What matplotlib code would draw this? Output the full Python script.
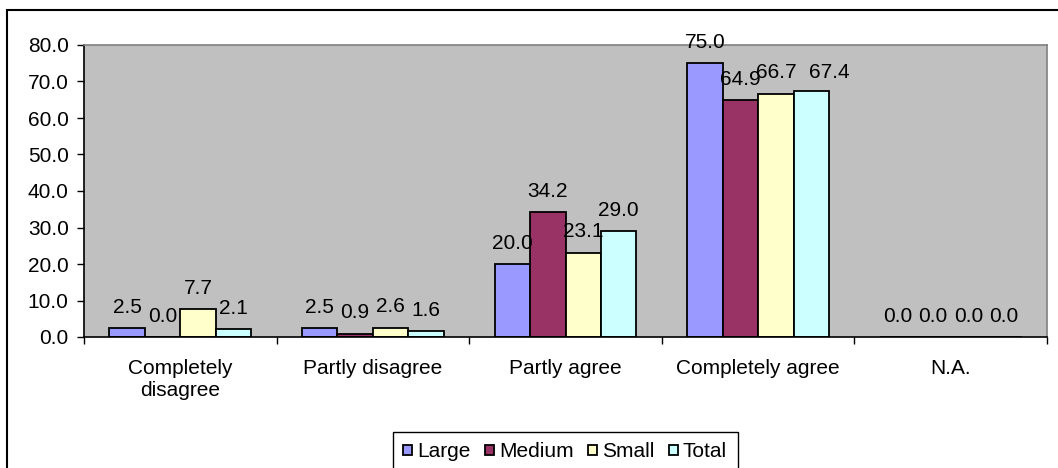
import matplotlib
matplotlib.use("Agg")
import matplotlib.pyplot as plt
from matplotlib.patches import Rectangle
import numpy as np

plt.rcParams['font.family'] = ['Liberation Sans', 'DejaVu Sans']

categories = ["Completely\ndisagree", "Partly disagree", "Partly agree",
              "Completely agree", "N.A."]
series_names = ["Large", "Medium", "Small", "Total"]
large = [2.5, 2.5, 20.0, 75.0, 0.0]
medium = [0.0, 0.9, 34.2, 64.9, 0.0]
small = [7.7, 2.6, 23.1, 66.7, 0.0]
total = [2.1, 1.6, 29.0, 67.4, 0.0]
colors = ["#9999FF", "#993366", "#FFFFCC", "#CCFFFF"]

FS = 15
# Excel pushed one crowded label sideways: (series, category) -> offset in points
label_nudge = {(3, 3): (13, 13)}


def main():
    fig = plt.figure(figsize=(10.58, 4.68), dpi=100)
    W, H = 1058, 468
    ax = fig.add_axes([84 / W, 1 - 337 / H, (1047 - 84) / W, (337 - 45) / H])
    ax.set_facecolor("#C0C0C0")

    x = np.arange(len(categories))
    width = 0.184
    all_series = [large, medium, small, total]
    for i, (name, vals) in enumerate(zip(series_names, all_series)):
        pos = x + (i - 1.5) * width
        ax.bar(pos, vals, width, color=colors[i], edgecolor="black",
               linewidth=1.3, label=name)
        for j, (px, v) in enumerate(zip(pos, vals)):
            off = label_nudge.get((i, j), (0, 15))
            ax.annotate(f"{v:.1f}", (px, v), xytext=off,
                        textcoords="offset points", ha="center", va="center",
                        fontsize=FS)

    ax.set_xlim(-0.5, len(categories) - 0.5)
    ax.set_ylim(0, 80)
    ax.set_yticks(np.arange(0, 81, 10))
    ax.set_yticklabels([f"{t:.1f}" for t in np.arange(0, 81, 10)])
    ax.tick_params(axis="y", direction="out", length=5, width=1, pad=6,
                   labelsize=FS)

    # ticks on category boundaries, labels in the middle
    ax.set_xticks(np.arange(-0.5, len(categories), 1.0))
    ax.set_xticklabels([])
    ax.tick_params(axis="x", which="major", direction="out", length=5, width=1)
    ax.set_xticks(x, minor=True)
    ax.set_xticklabels(categories, minor=True, fontsize=FS, linespacing=1.2)
    ax.tick_params(axis="x", which="minor", length=0, pad=16)

    for side in ["left", "bottom"]:
        ax.spines[side].set_color("black")
        ax.spines[side].set_linewidth(1.2)
    for side in ["top", "right"]:
        ax.spines[side].set_color("#808080")
        ax.spines[side].set_linewidth(1.2)

    fig.legend(loc="upper left", bbox_to_anchor=(393 / W, 1 - 432 / H),
               ncol=4, fontsize=FS, frameon=True, fancybox=False,
               edgecolor="black", framealpha=1, borderaxespad=0,
               handlelength=0.43, handleheight=0.43, handletextpad=0.25,
               columnspacing=0.68, borderpad=0.5)

    # outer chart border (right and bottom edges fall outside the picture)
    fig.patches.append(Rectangle((7 / W, -0.1), 1.1, 1.1 - 10 / H,
                                 transform=fig.transFigure, fill=False,
                                 edgecolor="black", linewidth=1.5))

    fig.savefig("out.png", dpi=100)


if __name__ == '__main__':
    main()
